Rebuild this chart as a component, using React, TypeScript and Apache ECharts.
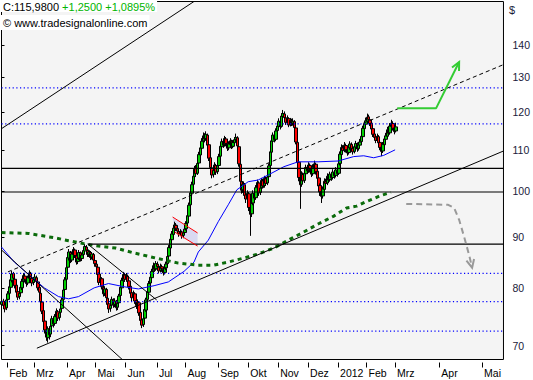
import React, { useEffect, useRef } from 'react';
import * as echarts from 'echarts';

// ---------- data ----------
const HOLIDAYS = ['2011-02-21', '2011-04-22', '2011-05-30', '2011-07-04', '2011-09-05', '2011-11-24', '2011-12-26', '2012-01-02', '2012-01-16', '2012-02-20'];
const MONTH_NAMES = ['Jan', 'Feb', 'Mrz', 'Apr', 'Mai', 'Jun', 'Jul', 'Aug', 'Sep', 'Okt', 'Nov', 'Dez'];
const FIRST_DAY = '2011-01-26';
const LAST_BAR_DAY = '2012-03-01';
const LAST_AXIS_DAY = '2012-05-15';

// [open, close, low, high]
const ohlc: number[][] = [
  [77.0,77.5,76.4,78.2],[77.6,76.8,76.2,78.0],[76.9,76.2,75.6,77.3],[76.4,77.8,76.0,78.3],
  [77.9,78.9,77.4,79.4],[79.0,80.2,78.6,80.8],[80.1,81.5,79.8,82.0],[81.4,82.6,81.0,83.2],[82.7,81.8,81.2,83.0],
  [81.6,80.4,79.9,82.0],[80.5,79.2,78.7,80.9],[79.3,78.3,77.8,79.6],[78.4,79.0,77.9,79.5],[79.1,80.1,78.6,80.6],
  [80.0,81.2,79.6,81.7],[81.3,82.3,80.9,82.8],[82.2,81.6,81.0,82.7],[81.5,80.8,80.2,82.0],[80.9,81.9,80.5,82.3],
  [81.8,82.8,81.4,83.3],[82.7,81.7,81.2,83.0],[81.8,80.9,80.3,82.1],[81.0,81.5,80.5,82.0],
  [81.6,82.0,81.0,82.6],[81.9,81.2,80.6,82.3],[81.1,80.0,79.5,81.4],[80.1,79.2,78.6,80.5],
  [79.0,77.5,77.0,79.3],[77.4,75.8,75.3,77.7],[75.9,74.0,73.5,76.2],[74.1,72.6,72.0,74.4],[72.5,71.4,70.8,73.0],
  [71.3,72.8,70.5,73.2],[72.7,71.8,71.0,73.1],
  [71.9,73.2,71.4,73.6],[73.3,74.5,72.9,75.0],[74.4,73.6,73.0,74.8],[73.7,74.9,73.3,75.3],[74.8,75.8,74.4,76.3],
  [75.7,74.6,74.1,76.0],[74.7,75.5,74.2,75.9],[75.6,76.2,75.1,76.8],
  [76.3,77.8,76.0,78.2],[77.9,79.6,77.5,80.1],[79.7,81.5,79.3,82.0],[81.6,83.8,81.2,84.3],
  [83.9,85.8,83.5,86.4],[85.7,86.9,85.2,87.5],[86.8,85.2,84.7,87.1],[85.3,86.5,84.9,87.0],[86.4,87.4,86.0,87.9],
  [87.3,86.2,85.7,87.6],[86.1,84.9,84.4,86.4],[85.0,85.6,84.5,86.1],[85.7,86.8,85.3,87.3],[86.7,85.5,85.0,87.0],
  [85.6,86.3,85.1,86.8],[86.4,87.2,86.0,87.7],[87.1,88.0,86.7,88.5],[87.9,87.3,86.8,88.3],[87.2,86.4,85.9,87.6],
  [86.5,86.9,85.9,87.4],[86.8,85.8,85.3,87.1],[85.9,86.5,85.4,86.9],[86.4,85.3,84.8,86.7],[85.2,84.6,84.0,85.6],
  [84.5,84.0,83.4,85.0],[83.9,82.5,82.0,84.2],[82.6,81.0,80.5,82.9],[81.1,81.8,80.6,82.3],[81.7,80.2,79.7,82.0],
  [80.1,78.9,78.4,80.4],[79.0,79.8,78.5,80.3],[79.7,78.2,77.7,80.0],[78.1,77.0,76.5,78.4],[77.1,76.2,75.5,77.4],
  [76.3,76.8,75.7,77.3],[76.9,77.9,76.5,78.4],[77.8,76.9,76.4,78.1],[77.0,77.6,76.5,78.1],[77.5,76.4,75.9,77.8],
  [76.5,77.2,76.0,77.7],[77.3,78.5,76.9,78.9],[78.6,80.1,78.2,80.6],[80.0,81.4,79.6,81.9],[81.3,82.5,80.9,83.0],
  [82.4,81.6,81.1,82.8],
  [81.7,82.3,81.2,82.8],[82.2,81.2,80.7,82.5],[81.3,80.2,79.7,81.6],[80.3,79.0,78.5,80.6],[79.1,78.2,77.6,79.4],
  [78.3,79.0,77.8,79.5],[78.9,77.6,77.1,79.2],[77.7,76.8,76.2,78.0],[76.9,77.4,76.3,77.9],[77.3,75.5,75.0,77.6],
  [75.6,74.2,73.7,75.9],[74.3,73.4,72.9,74.6],[73.5,74.5,73.1,75.0],[74.6,76.1,74.2,76.5],[76.0,77.8,75.7,78.2],
  [77.9,79.3,77.5,79.8],[79.2,80.8,78.9,81.3],[80.9,82.0,80.4,82.5],[81.9,83.1,81.5,83.6],[83.2,84.2,82.8,84.8],
  [84.1,83.5,83.0,84.6],[83.6,84.6,83.2,85.1],
  [84.5,84.0,83.5,85.0],[83.9,83.2,82.7,84.3],[83.3,84.1,82.9,84.6],[84.0,83.6,83.0,84.4],[83.5,82.8,82.3,83.9],
  [82.9,83.7,82.5,84.2],[83.8,84.5,83.3,85.0],[84.6,86.0,84.2,86.5],[86.1,87.8,85.7,88.3],[87.7,89.5,87.3,90.0],
  [89.4,90.6,89.0,91.2],[90.5,91.8,90.1,92.4],[91.9,92.5,91.3,93.2],[92.4,91.8,91.2,92.9],[91.7,91.2,90.6,92.3],
  [91.1,90.6,90.0,91.7],[90.7,91.1,90.2,91.6],[91.0,90.2,89.6,91.3],[90.3,90.8,89.7,91.3],[90.9,91.6,90.4,92.1],
  [91.7,92.8,91.3,93.3],[92.9,94.5,92.5,95.1],[94.4,96.8,94.0,97.4],[96.9,99.6,96.4,100.3],[99.5,101.5,99.0,102.2],
  [101.6,103.5,101.0,104.2],[103.4,105.2,102.8,106.0],[105.3,104.1,103.4,106.2],[104.2,106.6,103.8,107.2],
  [106.7,108.8,106.2,109.5],[108.7,110.5,108.2,111.3],[110.4,112.2,109.8,113.0],[112.3,113.6,111.6,114.5],
  [113.5,112.8,111.9,114.3],[112.9,114.0,112.3,114.8],[113.8,111.2,110.5,114.2],[111.3,107.9,107.2,111.8],
  [108.0,105.6,104.8,108.6],[105.5,103.8,103.0,106.2],[103.9,104.9,103.2,105.6],[105.0,106.2,104.4,106.9],
  [106.1,104.5,103.8,106.5],[104.6,106.0,104.0,106.7],
  [106.1,108.3,105.7,109.0],[108.4,110.9,108.0,111.6],[110.8,112.1,110.2,112.9],[112.2,111.2,110.5,112.8],
  [111.3,112.9,110.8,113.6],[112.8,111.6,110.9,113.3],[111.7,110.4,109.7,112.1],[110.5,111.5,109.9,112.2],
  [111.4,112.3,110.9,113.0],[112.2,110.8,110.2,112.6],[110.9,111.9,110.4,112.5],[111.8,112.6,111.3,113.3],
  [112.7,113.2,112.0,114.2],[113.1,111.0,110.3,113.5],[110.8,106.5,105.8,111.0],[106.4,102.3,101.5,106.8],
  [102.2,100.2,99.4,102.9],[100.3,101.6,99.6,102.3],[101.5,99.0,98.2,101.9],[99.1,98.2,97.3,99.8],[98.3,99.5,97.6,100.2],
  [99.4,96.3,95.5,99.8],[96.2,94.8,90.2,96.8],[94.9,97.2,94.2,97.8],[97.3,99.5,96.8,100.2],[99.4,98.4,97.6,100.1],
  [98.5,100.8,98.0,101.4],[100.9,102.0,100.2,102.7],[101.9,99.6,98.9,102.3],[99.7,100.7,99.1,101.3],
  [100.8,102.5,100.3,103.1],[102.4,101.2,100.6,102.9],[101.3,103.0,100.8,103.6],[102.9,101.8,101.2,103.4],
  [101.9,103.3,101.4,104.0],[103.4,106.0,103.0,106.6],[106.1,109.5,105.7,110.2],[109.4,112.3,109.0,113.0],
  [112.2,113.8,111.6,114.5],[113.7,112.6,111.9,114.3],[112.7,114.9,112.2,115.6],[115.0,116.2,114.4,117.0],
  [116.1,117.5,115.5,118.3],[117.4,116.0,115.3,117.9],[116.1,118.9,115.8,119.7],[118.8,119.6,118.0,120.6],
  [119.5,118.5,117.8,120.2],[118.4,117.2,116.5,118.9],[117.3,118.3,116.8,119.1],[118.2,116.5,115.9,118.6],
  [116.6,117.8,116.1,118.4],[117.7,116.9,116.2,118.2],[117.0,117.5,116.3,118.3],[117.4,115.8,115.1,117.8],
  [115.7,112.0,111.4,116.0],[111.9,106.8,106.0,112.3],[106.9,103.2,102.3,107.4],[103.1,101.5,96.0,103.8],
  [101.6,104.0,101.0,104.7],[103.9,102.4,101.6,104.4],[102.5,104.2,101.9,104.9],[104.1,105.6,103.6,106.3],
  [105.7,104.8,104.1,106.2],
  [104.9,106.2,104.3,106.9],[106.1,105.1,104.4,106.6],[105.2,104.0,103.3,105.6],[104.1,105.7,103.6,106.4],
  [105.6,106.5,105.0,107.3],[106.4,104.6,103.9,106.8],[104.7,103.0,102.2,105.1],[103.1,101.2,100.4,103.5],
  [101.3,99.8,98.9,101.8],[99.9,98.8,97.3,100.4],[98.9,100.5,98.3,101.1],[100.4,102.3,99.9,103.0],
  [102.2,101.8,101.0,102.9],[101.9,103.5,101.4,104.2],[103.4,102.6,101.9,104.0],[102.7,104.0,102.2,104.6],
  [103.9,103.1,102.4,104.4],[103.2,104.5,102.7,105.2],[104.4,103.6,102.9,104.9],[103.7,105.0,103.2,105.7],
  [104.9,104.1,103.4,105.4],
  [104.2,106.5,103.8,107.2],[106.6,108.9,106.1,109.6],[108.8,110.6,108.3,111.4],[110.5,109.8,109.0,111.2],
  [109.9,111.2,109.4,112.0],[111.1,110.0,109.3,111.6],[110.1,109.2,108.5,110.6],[109.3,110.6,108.8,111.3],
  [110.5,111.5,110.0,112.2],[111.4,110.3,109.6,111.9],[110.4,109.5,108.8,110.9],[109.6,110.8,109.1,111.5],
  [110.7,111.6,110.2,112.3],[111.5,110.2,109.5,111.9],[110.3,111.3,109.8,112.0],[111.2,112.0,110.7,112.8],
  [112.1,113.5,111.6,114.2],[113.4,115.6,113.0,116.3],[115.5,116.8,115.0,117.6],[116.7,117.6,116.1,118.5],
  [117.5,118.6,117.0,119.6],[118.7,118.0,117.2,119.3],[117.9,116.9,116.2,118.4],[117.0,115.4,114.8,117.3],
  [115.5,114.0,113.3,115.9],[114.1,113.2,112.5,114.6],[113.3,112.4,111.7,113.9],[112.5,113.5,112.0,114.2],
  [113.4,111.8,111.1,113.8],[111.9,110.6,109.9,112.3],[110.7,109.6,108.4,111.1],[109.7,111.4,109.2,112.0],
  [111.3,112.8,110.8,113.5],[112.7,113.6,112.1,114.4],[113.5,115.2,113.0,116.0],[115.1,114.3,113.6,115.8],
  [114.4,116.2,113.9,117.0],[116.1,117.0,115.5,117.9],[116.9,115.6,115.0,117.5],[115.7,114.73,114.0,116.2],
  [114.9,115.98,114.5,117.1],
];

// moving averages: [bar index, price]
const maShort: number[][] = [
  [0,87.9],[9,84.9],[19,82.5],[30,80.0],[40,78.4],[47,78.0],[54,78.4],[65,80.0],[75,80.8],[86,80.2],
  [96,79.8],[107,80.4],[117,81.1],[128,83.1],[135,84.9],[138,86.9],[145,89.3],[152,93.2],[159,96.9],
  [165,100.3],[173,102.2],[180,102.6],[187,103.8],[198,105.8],[208,107.0],[222,107.0],[236,107.2],
  [247,108.3],[254,108.5],[261,108.0],[268,108.6],[276,110.0],
];
const maLong: number[][] = [
  [0,90.9],[19,90.7],[37,89.8],[47,89.2],[59,88.5],[68,88.1],[80,87.7],[93,86.7],[108,85.7],[124,84.7],
  [138,84.3],[149,84.3],[159,84.9],[170,85.7],[180,86.5],[191,87.7],[201,89.3],[212,91.0],[222,92.7],
  [233,94.4],[242,96.2],[249,96.6],[255,97.5],[261,98.3],[266,99.0],[273,99.7],
];

// drawing tools (time position on the bar scale, price)
const upperLine = [[0, 115.5], [147, 159.0]];
const channelMid = [[4.5, 83.0], [352, 133.9]];
const channelLow = [[24.8, 69.6], [352, 109.7]];
const downLine1 = [[0, 87.3], [89.7, 66.8]];
const downLine2 = [[60.5, 88.5], [108.8, 77.8]];
const flagUpper = [[120.0, 94.2], [137.5, 90.8]];
const flagLower = [[121.4, 91.0], [137.5, 88.1]];
const greenArrow = [[277.5, 121.1], [304.8, 121.1], [320.9, 134.7]];
const grayArrow = [[283.8, 97.1], [313.2, 96.9], [317.4, 96.2], [320.9, 93.6], [324.4, 90.0], [327.9, 86.3], [330.0, 83.8]];
const dottedLevels = [126.9, 116.8, 82.7, 77.5, 72.4];
const solidLevels = [105.4, 99.8];
const aprilLevel = { from: 60.5, price: 88.5 };
const yTicks = [70, 80, 90, 100, 110, 120, 130, 140];
const PRICE_MIN = 67.81;
const PRICE_MAX = 154.89;

// ---------- helpers ----------
function buildDates(): string[] {
  const out: string[] = [];
  const d = new Date(FIRST_DAY + 'T00:00:00Z');
  const lastBar = new Date(LAST_BAR_DAY + 'T00:00:00Z').getTime();
  const end = new Date(LAST_AXIS_DAY + 'T00:00:00Z').getTime();
  while (d.getTime() <= end) {
    const s = d.toISOString().slice(0, 10);
    const wd = d.getUTCDay();
    if (d.getTime() > lastBar || (wd !== 0 && wd !== 6 && HOLIDAYS.indexOf(s) < 0)) out.push(s);
    d.setUTCDate(d.getUTCDate() + 1);
  }
  return out;
}

const L = (p: number) => Math.log(p);
const pts = (arr: number[][]) => arr.map((p) => [p[0], L(p[1])]);

export default function App() {
  const ref = useRef<HTMLDivElement>(null);
  useEffect(() => {
    if (!ref.current) return;
    const chart = echarts.init(ref.current, undefined, { renderer: 'svg' });
    const dates = buildDates();
    const N = dates.length;
    const monthIdx: number[] = [];
    const monthLab: Record<number, string> = {};
    for (let i = 1; i < N; i++) {
      if (dates[i].slice(5, 7) !== dates[i - 1].slice(5, 7)) {
        monthIdx.push(i);
        const m = parseInt(dates[i].slice(5, 7), 10);
        monthLab[i] = m === 1 ? dates[i].slice(0, 4) : MONTH_NAMES[m - 1];
      }
    }
    const font = '"Liberation Sans", Arial, sans-serif';
    const lineSeries = (data: number[][], color: string, width: number, type: any = 'solid', z = 5) => ({
      type: 'line', xAxisIndex: 1, yAxisIndex: 0, data: pts(data), symbol: 'none', silent: true,
      lineStyle: { color, width, type }, z, clip: true,
    });
    const arrowHead = (line: number[][], color: string, width: number) => ({
      type: 'custom', xAxisIndex: 1, yAxisIndex: 0, silent: true, z: 6,
      data: [[line[line.length - 1][0], L(line[line.length - 1][1])]],
      renderItem: (_p: any, api: any) => {
        const a = api.coord([line[line.length - 2][0], L(line[line.length - 2][1])]);
        const b = api.coord([line[line.length - 1][0], L(line[line.length - 1][1])]);
        const ang = Math.atan2(b[1] - a[1], b[0] - a[0]);
        const len = 9, spread = 0.45;
        const p1 = [b[0] - len * Math.cos(ang - spread), b[1] - len * Math.sin(ang - spread)];
        const p2 = [b[0] - len * Math.cos(ang + spread), b[1] - len * Math.sin(ang + spread)];
        return { type: 'polyline', shape: { points: [p1, b, p2] }, style: { stroke: color, lineWidth: width, fill: null } };
      },
    });
    const series: any[] = [
      {
        type: 'custom', xAxisIndex: 1, yAxisIndex: 0, silent: true, z: 1,
        data: [[flagUpper[0][0], L(flagUpper[0][1])]],
        renderItem: (_p: any, api: any) => {
          const poly = [flagUpper[0], flagUpper[1], flagLower[1], flagLower[0]].map((p) => api.coord([p[0], L(p[1])]));
          return { type: 'polygon', shape: { points: poly }, style: { fill: '#d9d9f2' } };
        },
      },
      {
        type: 'candlestick', xAxisIndex: 0, yAxisIndex: 0, barWidth: 3, z: 2,
        data: ohlc.map((c) => c.map(L)),
        itemStyle: { color: '#00d000', color0: '#ff0000', borderColor: '#000', borderColor0: '#000', borderWidth: 1 },
      },
      lineSeries(maShort, '#0000ff', 1, 'solid', 3),
      lineSeries(maLong, '#0b6b0b', 3, [4, 4], 3),
      ...dottedLevels.map((v) => lineSeries([[0, v], [N, v]], '#0000ff', 1.2, [1.2, 2.5], 4)),
      ...solidLevels.map((v) => lineSeries([[0, v], [N, v]], '#000', 1.2, 'solid', 4)),
      lineSeries([[aprilLevel.from, aprilLevel.price], [N, aprilLevel.price]], '#000', 1.2, 'solid', 4),
      lineSeries(upperLine, '#000', 1, 'solid', 4),
      lineSeries(channelMid, '#000', 1, [4, 3], 4),
      lineSeries(channelLow, '#000', 1, 'solid', 4),
      lineSeries(downLine1, '#000', 1, 'solid', 4),
      lineSeries(downLine2, '#000', 1, 'solid', 4),
      lineSeries(flagUpper, '#ff0000', 1, 'solid', 4),
      lineSeries(flagLower, '#ff0000', 1, 'solid', 4),
      lineSeries(greenArrow, '#33cc33', 2, 'solid', 5),
      arrowHead(greenArrow, '#33cc33', 2),
      lineSeries(grayArrow, '#999999', 2, [6, 4], 5),
      arrowHead(grayArrow, '#999999', 2),
    ];
    const yt = yTicks.map(L);
    chart.setOption({
      animation: false,
      backgroundColor: '#ffffff',
      grid: { left: 1.5, top: 1.5, right: 28.5, bottom: 20.5, show: true, backgroundColor: '#f4f4f4', borderColor: '#000', borderWidth: 1, z: 0 },
      title: [
        {
          left: 1, top: 0, padding: [1, 2, 0, 2], backgroundColor: '#ffffff',
          text: '{a|C:115,9800} {b|+1,2500 +1,0895%}',
          textStyle: { fontFamily: font, fontSize: 11, fontWeight: 'normal', rich: { a: { color: '#000', fontFamily: font, fontSize: 11 }, b: { color: '#00b400', fontFamily: font, fontSize: 11 } } },
        },
        {
          left: 1, top: 15, padding: [2, 2, 2, 2], backgroundColor: '#ffffff',
          text: '© www.tradesignalonline.com',
          textStyle: { fontFamily: font, fontSize: 11, fontWeight: 'normal', color: '#000' },
        },
      ],
      graphic: [{ type: 'text', left: 509, top: 4, style: { text: '$', fill: '#1a1a3a', font: '11px ' + font } }],
      xAxis: [
        { type: 'category', data: dates, show: false, boundaryGap: true, gridIndex: 0 },
        {
          type: 'value', min: 0, max: N, gridIndex: 0, position: 'bottom', offset: 3,
          axisLine: { show: false },
          splitLine: { show: false },
          axisTick: { show: true, length: 5, customValues: monthIdx, lineStyle: { color: '#000', width: 1 } },
          axisLabel: { customValues: monthIdx, formatter: (v: number) => monthLab[Math.round(v)] || '', align: 'left', margin: 5, color: '#000', fontFamily: font, fontSize: 10.5, padding: [0, 0, 0, 2] },
        },
      ],
      yAxis: [
        {
          type: 'value', position: 'right', min: L(PRICE_MIN), max: L(PRICE_MAX), offset: 2, scale: true,
          axisLine: { show: false }, splitLine: { show: false },
          axisTick: { show: true, length: 3, customValues: yt, lineStyle: { color: '#000' } },
          axisLabel: { customValues: yt, formatter: (v: number) => String(Math.round(Math.exp(v))), margin: 7, color: '#1a1a3a', fontFamily: font, fontSize: 10.5 },
        },
      ],
      series,
    });
    return () => chart.dispose();
  }, []);
  return <div ref={ref} style={{ position: 'fixed', left: 0, top: 0, width: 533, height: 380 }} />;
}
